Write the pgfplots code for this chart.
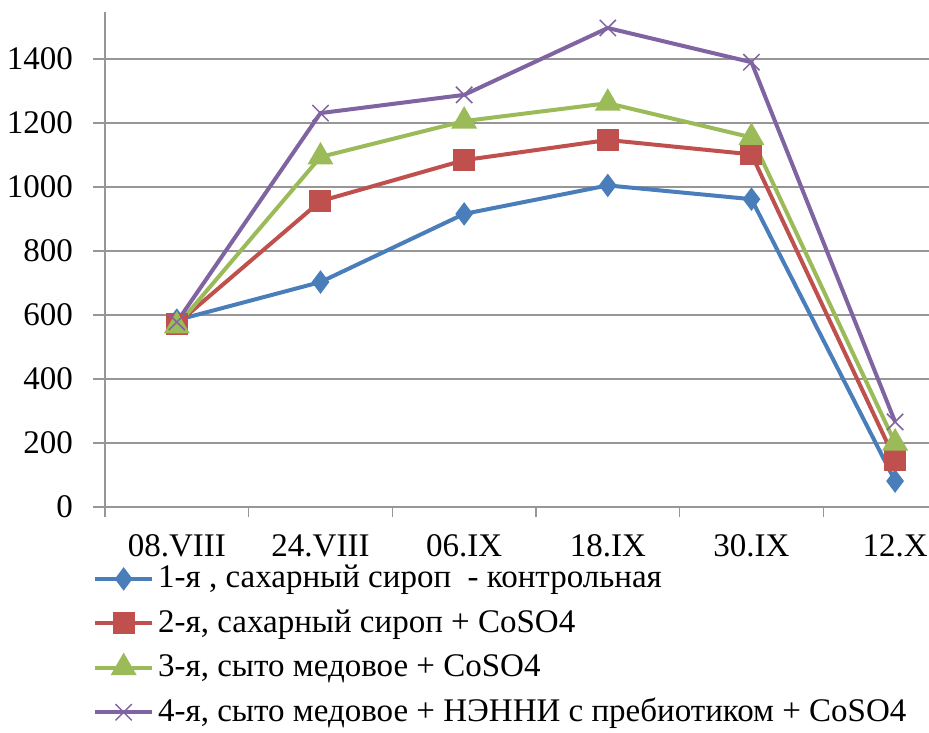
\documentclass[border=0pt]{standalone}
\usepackage{fontspec}
\setmainfont{Liberation Serif}
\usepackage{pgfplots}
\pgfplotsset{compat=1.18}
\definecolor{cA}{RGB}{74,126,187}
\definecolor{cB}{RGB}{192,80,77}
\definecolor{cC}{RGB}{155,187,89}
\definecolor{cD}{RGB}{128,100,162}
\definecolor{gridgray}{RGB}{150,150,150}
\begin{document}
\fontsize{33bp}{38bp}\selectfont
\begin{tikzpicture}[x=1bp,y=1bp]
\path[use as bounding box] (-105,-226) rectangle (824,507);
\begin{axis}[
  at={(0,0)}, anchor=south west,
  scale only axis, width=824bp, height=495bp,
  xmin=-0.5, xmax=5.236, ymin=0, ymax=1547,
  axis x line=bottom, axis y line=left,
  axis line style={-, draw=gridgray, line width=1.5bp},
  xtick={0,1,2,3,4,5},
  xticklabels={08.VIII,24.VIII,06.IX,18.IX,30.IX,12.X},
  minor xtick={-0.5,0.5,1.5,2.5,3.5,4.5},
  tick align=outside,
  major x tick style={draw=none},
  minor x tick style={draw=gridgray, line width=1.5bp},
  minor tick length=10bp,
  major tick length=12bp,
  ytick={0,200,400,600,800,1000,1200,1400},
  y tick style={draw=gridgray, line width=1.5bp},
  ymajorgrids, grid style={draw=gridgray, line width=1.5bp},
  /pgf/number format/assume math mode=true,
  /pgf/number format/1000 sep={},
  xticklabel style={yshift=-4bp},
  yticklabel style={xshift=-9bp},
  legend style={at={(-0.0146,-0.113)}, anchor=north west, draw=none, fill=none,
    row sep=13bp, inner sep=0pt, font=\fontsize{33bp}{38bp}\selectfont,
    nodes={inner xsep=4bp}},
  legend cell align=left,
  legend image code/.code={\draw[mark repeat=2,mark phase=2] plot coordinates {(0bp,0bp) (28.5bp,0bp) (57bp,0bp)};},
  every axis plot/.append style={line width=4bp},
]
\addplot[cA, mark=diamond*, mark size=8.5bp, mark options={solid}] coordinates {(0,584) (1,703) (2,916) (3,1005) (4,962) (5,81)};
\addlegendentry{1-я , сахарный сироп \ - контрольная}
\addplot[cB, mark=square*, mark size=9bp] coordinates {(0,572) (1,956) (2,1084) (3,1147) (4,1102) (5,148)};
\addlegendentry{2-я, сахарный сироп + CoSO4}
\addplot[cC, mark=triangle*, mark size=11bp] coordinates {(0,566) (1,1094) (2,1206) (3,1262) (4,1155) (5,200)};
\addlegendentry{3-я, сыто медовое + CoSO4}
\addplot[cD, mark=x, mark size=11.5bp, mark options={line width=1.5bp}] coordinates {(0,578) (1,1231) (2,1288) (3,1497) (4,1390) (5,266)};
\addlegendentry{4-я, сыто медовое + НЭННИ с пребиотиком + CoSO4}
\end{axis}
\end{tikzpicture}
\end{document}
